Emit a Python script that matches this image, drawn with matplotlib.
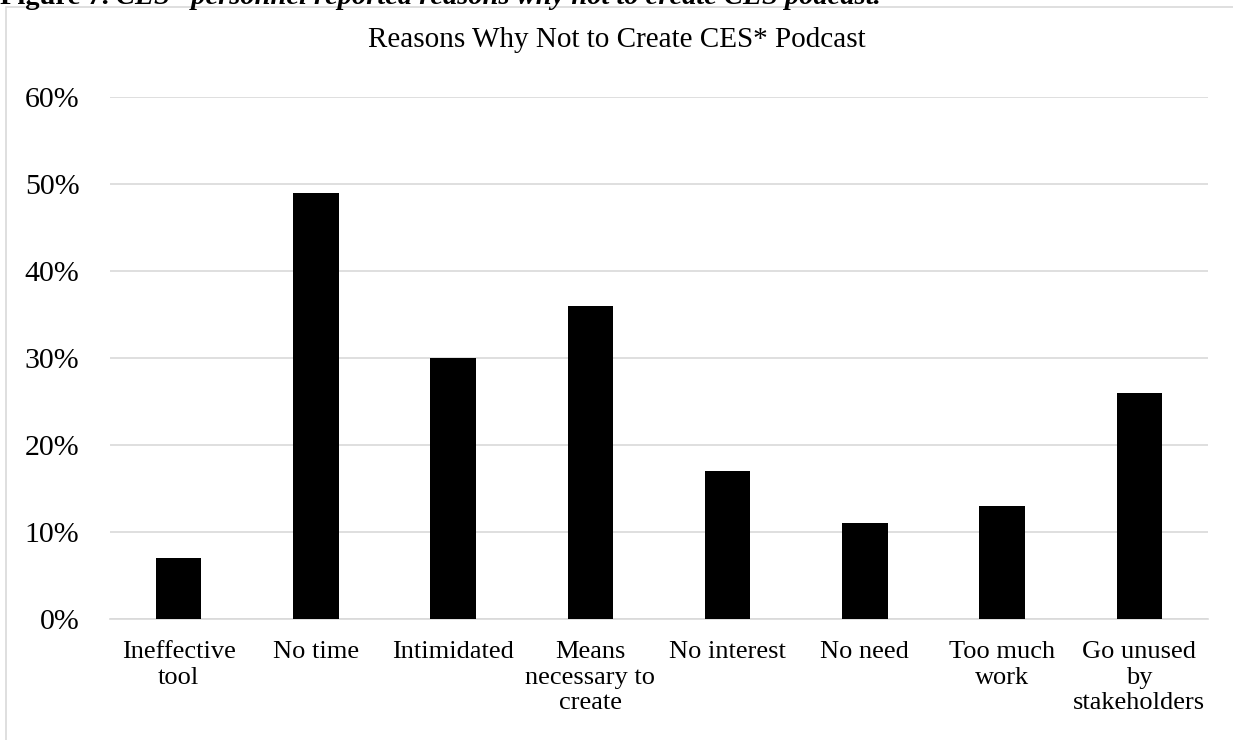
import numpy as np
import matplotlib.pyplot as plt
from matplotlib.patches import Rectangle
from matplotlib.text import Annotation
from matplotlib.ticker import PercentFormatter

categories = [
    "Ineffective\ntool",
    "No time",
    "Intimidated",
    "Means\nnecessary to\ncreate",
    "No interest",
    "No need",
    "Too much\nwork",
    "Go unused\nby\nstakeholders",
]
shares = [0.07, 0.49, 0.30, 0.36, 0.17, 0.11, 0.13, 0.26]
y_ticks = [0.0, 0.1, 0.2, 0.3, 0.4, 0.5, 0.6]

plt.rcParams['font.family'] = ['Liberation Serif', 'DejaVu Serif']
grid_color = '#d9d9d9'

fig = plt.figure(figsize=(12.33, 7.4), dpi=100)
W, H = 1233, 740

# chart area frame (runs off the right and bottom edges)
frame = Rectangle((6 / W, -0.1), 1.2, 1.1 - 7.5 / H, transform=fig.transFigure,
                  fill=False, edgecolor=grid_color, linewidth=1.2, clip_on=False)
fig.patches.append(frame)

# figure caption sitting above the chart, its upper part runs off the page
cap1 = fig.text(0.0, 1 - 4 / H, "Figure 7. ", fontsize=20.5, fontweight='bold',
                va='baseline', ha='left')
cap2 = Annotation("CES* personnel reported reasons why not to create CES podcast.",
                  xy=(1, 0), xycoords=cap1, va='bottom', ha='left',
                  fontsize=20.5, fontweight='bold', fontstyle='italic')
fig.add_artist(cap2)

fig.text(0.5, 1 - 40 / H, "Reasons Why Not to Create CES* Podcast",
         fontsize=21, ha='center', va='center')

ax = fig.add_axes([110 / W, 1 - 619 / H, (1208 - 110) / W, (619 - 97) / H])
x = np.arange(len(categories))
ax.bar(x, shares, width=0.33, color='black', zorder=3)

ax.set_xlim(-0.5, len(categories) - 0.5)
ax.set_ylim(0, 0.6)
ax.set_yticks(y_ticks)
ax.yaxis.set_major_formatter(PercentFormatter(1.0, decimals=0))
ax.set_xticks(x)
ax.set_xticklabels(categories, fontsize=19, linespacing=1.2)
ax.tick_params(axis='y', length=0, pad=22, labelsize=21.5)
ax.tick_params(axis='x', length=0, pad=16)
ax.grid(axis='y', color=grid_color, linewidth=1.2, zorder=0)
ax.set_axisbelow(True)
for side in ['left', 'right', 'top']:
    ax.spines[side].set_visible(False)
ax.spines['bottom'].set_color(grid_color)
ax.spines['bottom'].set_linewidth(1.2)

fig.savefig('out.png', dpi=100)
